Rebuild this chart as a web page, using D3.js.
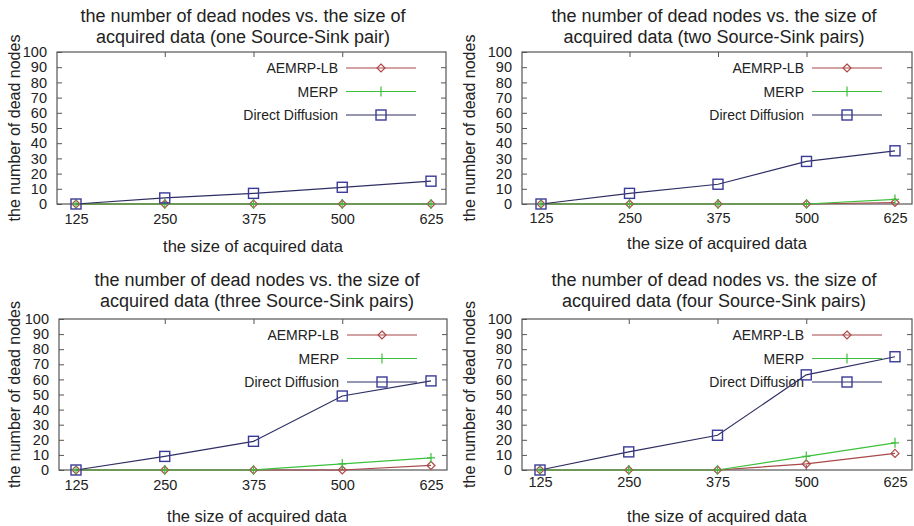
<!DOCTYPE html>
<html>
<head>
<meta charset="utf-8">
<script src="https://cdn.jsdelivr.net/npm/d3@7"></script>
<style>
  body { margin: 0; background: #fff; }
  svg { display: block; }
  text { font-family: "Liberation Sans", Arial, sans-serif; fill: #222; }
  .tick-label { font-family: "Liberation Sans Narrow", "Arial Narrow", "Liberation Sans", sans-serif; font-size: 14.5px; }
</style>
</head>
<body>
<div id="chart"></div>
<script>
// data
var sizes = [125, 250, 375, 500, 625];
var pairLabels = ['one Source-Sink pair', 'two Source-Sink pairs', 'three Source-Sink pairs', 'four Source-Sink pairs'];
var seriesNames = ['AEMRP-LB', 'MERP', 'Direct Diffusion'];
var aemrpLB = [[0, 0, 0, 0, 0], [0, 0, 0, 0, 1], [0, 0, 0, 0, 3], [0, 0, 0, 4, 11]];
var merp = [[0, 0, 0, 0, 0], [0, 0, 0, 0, 3], [0, 0, 0, 4, 8], [0, 0, 0, 9, 18]];
var directDiffusion = [[0, 4, 7, 11, 15], [0, 7, 13, 28, 35], [0, 9, 19, 49, 59], [0, 12, 23, 63, 75]];
var yTicks = d3.range(0, 101, 10);

// panel layout (pixels)
var panels = [
  {left: 57, right: 446, top: 52, bottom: 204, x0: 76, x1: 431, titleX: 243, titleY: 16, xLabelX: 253, xLabelY: 246, tickY: 220, yLabelX: 15},
  {left: 522, right: 912, top: 52, bottom: 204, x0: 541, x1: 895, titleX: 714, titleY: 16, xLabelX: 717, xLabelY: 243, tickY: 219, yLabelX: 470},
  {left: 59, right: 447, top: 319, bottom: 470, x0: 76, x1: 431, titleX: 257, titleY: 280, xLabelX: 257, xLabelY: 516, tickY: 486, yLabelX: 15},
  {left: 522, right: 912, top: 319, bottom: 470, x0: 540, x1: 895, titleX: 714, titleY: 280, xLabelX: 717, xLabelY: 516, tickY: 483, yLabelX: 470}
];

var colors = ['#a84848', '#3cc03c', '#2e2e62'];
var markerColors = ['#b04848', '#3cc03c', '#3a3a98'];

var svg = d3.select('#chart').append('svg')
    .attr('width', 914)
    .attr('height', 526);

function drawMarker(g, kind, x, y, color) {
  if (kind === 0) {
    g.append('path')
      .attr('d', `M${x},${y - 4}L${x + 4},${y}L${x},${y + 4}L${x - 4},${y}Z`)
      .attr('fill', 'none').attr('stroke', color).attr('stroke-width', 1.2);
  } else if (kind === 1) {
    g.append('path')
      .attr('d', `M${x - 4},${y}H${x + 4}M${x},${y - 5}V${y + 5}`)
      .attr('stroke', color).attr('stroke-width', 1.2);
  } else {
    g.append('rect')
      .attr('x', x - 5).attr('y', y - 5).attr('width', 10).attr('height', 10)
      .attr('fill', 'none').attr('stroke', color).attr('stroke-width', 1.4);
  }
}

panels.forEach(function(p, i) {
  var g = svg.append('g');
  var x = d3.scalePoint().domain(sizes).range([p.x0, p.x1]);
  var y = d3.scaleLinear().domain([0, 100]).range([p.bottom, p.top]);

  // title
  var title = g.append('text')
    .attr('text-anchor', 'middle')
    .attr('font-size', '18px');
  title.append('tspan').attr('x', p.titleX).attr('y', p.titleY + 6)
    .text('the number of dead nodes vs. the size of');
  title.append('tspan').attr('x', p.titleX).attr('y', p.titleY + 27)
    .text('acquired data (' + pairLabels[i] + ')');

  // frame
  g.append('rect')
    .attr('x', p.left).attr('y', p.top)
    .attr('width', p.right - p.left).attr('height', p.bottom - p.top)
    .attr('fill', 'none').attr('stroke', '#555').attr('stroke-width', 1.2);

  // y axis ticks + labels
  var leftAxis = d3.axisLeft(y).tickValues(yTicks).tickSize(-5).tickPadding(10);
  var yAxis = g.append('g').attr('transform', `translate(${p.left},0)`).call(leftAxis);
  var rightAxis = d3.axisRight(y).tickValues(yTicks.slice(1, 10)).tickSize(-5).tickFormat('');
  var yAxisR = g.append('g').attr('transform', `translate(${p.right},0)`).call(rightAxis);

  // x axis ticks + labels
  var bottomAxis = d3.axisBottom(x).tickSize(0).tickPadding(0);
  var xAxis = g.append('g').attr('transform', `translate(0,${p.tickY - 6})`).call(bottomAxis);
  var topAxis = d3.axisTop(x).tickValues(sizes.slice(1, 4)).tickSize(-5).tickFormat('');
  var xAxisT = g.append('g').attr('transform', `translate(0,${p.top})`).call(topAxis);

  [yAxis, yAxisR, xAxis, xAxisT].forEach(function(a) {
    a.select('.domain').remove();
    a.selectAll('line').attr('stroke', '#555');
    a.selectAll('text').attr('class', 'tick-label').attr('fill', '#222').attr('font-size', null).attr('font-family', null);
  });
  // bottom ticks inward
  g.append('g').selectAll('line')
    .data(sizes.slice(1, 4))
    .enter().append('line')
    .attr('x1', d => x(d)).attr('x2', d => x(d))
    .attr('y1', p.bottom).attr('y2', p.bottom - 5)
    .attr('stroke', '#555');

  // axis labels
  g.append('text')
    .attr('x', p.xLabelX).attr('y', p.xLabelY + 6)
    .attr('text-anchor', 'middle').attr('font-size', '16.5px')
    .text('the size of acquired data');
  g.append('text')
    .attr('transform', `translate(${p.yLabelX + 5},${(p.top + p.bottom) / 2}) rotate(-90)`)
    .attr('text-anchor', 'middle').attr('font-size', '16px')
    .text('the number of dead nodes');

  // legend
  var lx0 = p.right - 100, lx1 = p.right - 30, lm = p.right - 65;
  seriesNames.forEach(function(name, k) {
    var ly = p.top + 16 + k * 23.5;
    g.append('text')
      .attr('x', p.right - 108).attr('y', ly + 5)
      .attr('text-anchor', 'end').attr('font-size', '14px')
      .attr('fill', '#333')
      .text(name);
    g.append('line')
      .attr('x1', lx0).attr('x2', lx1).attr('y1', ly).attr('y2', ly)
      .attr('stroke', colors[k]).attr('stroke-width', 1.2);
    drawMarker(g, k, lm, ly, markerColors[k]);
  });

  // series
  var line = d3.line().x((d, j) => x(sizes[j])).y(d => y(d));
  [aemrpLB[i], merp[i], directDiffusion[i]].forEach(function(vals, k) {
    g.append('path')
      .datum(vals)
      .attr('d', line)
      .attr('fill', 'none')
      .attr('stroke', colors[k])
      .attr('stroke-width', 1.2);
  });
  [aemrpLB[i], merp[i], directDiffusion[i]].forEach(function(vals, k) {
    vals.forEach(function(v, j) {
      drawMarker(g, k, x(sizes[j]), y(v), markerColors[k]);
    });
  });
});
</script>
</body>
</html>
